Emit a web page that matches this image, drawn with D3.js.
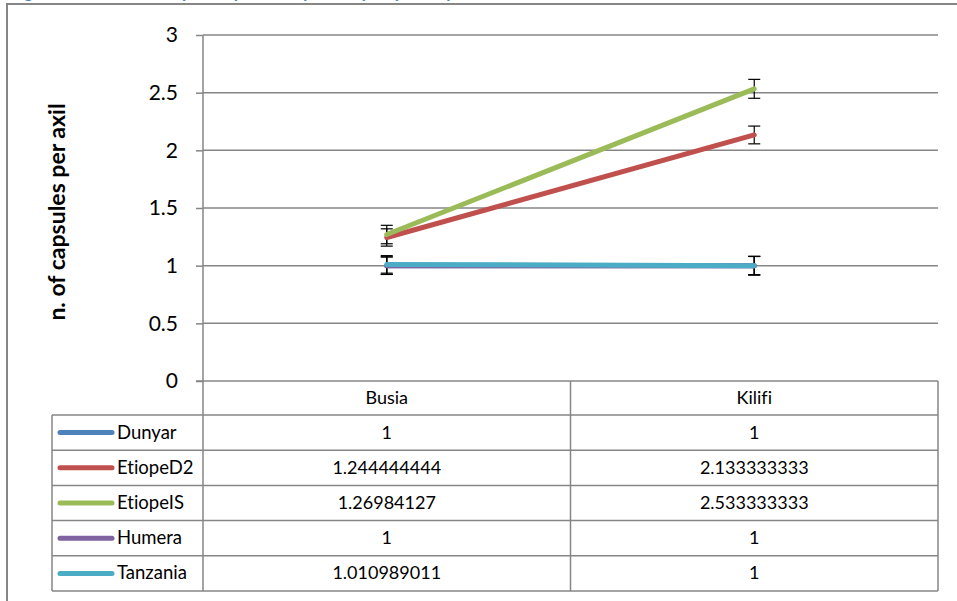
<!DOCTYPE html>
<html><head><meta charset="utf-8">
<script src="https://cdn.jsdelivr.net/npm/d3@7"></script>
<style>html,body{margin:0;padding:0;background:#fff;overflow:hidden} text{font-variant-ligatures:none}</style>
</head><body>
<svg id="c" width="957" height="601"></svg>
<script>
const categories = ["Busia", "Kilifi"];
const seriesNames = ["Dunyar", "EtiopeD2", "EtiopeIS", "Humera", "Tanzania"];
const dunyar = [1, 1];
const etiopeD2 = [1.244444444, 2.133333333];
const etiopeIS = [1.26984127, 2.533333333];
const humera = [1, 1];
const tanzania = [1.010989011, 1];
const labelsD2 = ["1.244444444", "2.133333333"];
const labelsIS = ["1.26984127", "2.533333333"];
const labelsTz = ["1.010989011", "1"];
const errDunyar = [0.076, 0.08];
const errD2 = [0.075, 0.077];
const errIS = [0.08, 0.082];
const errHumera = [0.076, 0.08];
const errTanzania = [0.076, 0.08];
const yTicks = [0, 0.5, 1, 1.5, 2, 2.5, 3];
const colors = ["#4F81BD", "#C0504D", "#9BBB59", "#8064A2", "#4BACC6"];

const series = [
  {name: seriesNames[0], values: dunyar, err: errDunyar, labels: ["1", "1"]},
  {name: seriesNames[1], values: etiopeD2, err: errD2, labels: labelsD2},
  {name: seriesNames[2], values: etiopeIS, err: errIS, labels: labelsIS},
  {name: seriesNames[3], values: humera, err: errHumera, labels: ["1", "1"]},
  {name: seriesNames[4], values: tanzania, err: errTanzania, labels: labelsTz}
];

const svg = d3.select("#c");
const font = "Lato, 'Open Sans', sans-serif";
const gray = "#868686";
const L = 203, R = 938, T = 35, B = 381;
const x = d3.scaleBand().domain(categories).range([L, R]);
const y = d3.scaleLinear().domain([0, 3]).range([B, T]);

// cut-off title (only descenders visible, as in the reference)
svg.append("text").attr("x", 10).attr("y", -2.5)
  .attr("font-family", font).attr("font-weight", "bold").attr("font-size", 17)
  .attr("fill", "#4F81BD")
  .text("Figure 8: Number of capsules per axil by locality: capsules per axil");

// outer frame
svg.append("path").attr("d", "M7,610 L7,4 L960,4")
  .attr("fill", "none").attr("stroke", gray).attr("stroke-width", 2);

// gridlines
svg.append("g").selectAll("line").data(yTicks.filter(d => d > 0)).join("line")
  .attr("x1", L).attr("x2", R).attr("y1", d => y(d)).attr("y2", d => y(d))
  .attr("stroke", gray).attr("stroke-width", 1.5);

// y axis
const yAxis = d3.axisLeft(y).tickValues(yTicks).tickSize(7).tickPadding(18)
  .tickFormat(d3.format("~g"));
const ga = svg.append("g").attr("transform", `translate(${L},0)`).call(yAxis);
ga.select(".domain").remove();
ga.selectAll(".tick line").attr("stroke", gray).attr("stroke-width", 1.5);
ga.selectAll(".tick text").attr("font-family", font).attr("font-size", 21).attr("fill", "#000");
svg.append("line").attr("x1", L).attr("x2", L).attr("y1", T).attr("y2", 591)
  .attr("stroke", gray).attr("stroke-width", 1.5);
svg.append("line").attr("x1", L - 7).attr("x2", R).attr("y1", B).attr("y2", B)
  .attr("stroke", gray).attr("stroke-width", 1.5);

// y title
svg.append("text").attr("transform", "translate(65,212) rotate(-90)")
  .attr("text-anchor", "middle").attr("font-family", font).attr("font-weight", "bold")
  .attr("font-size", 23).attr("fill", "#000").text("n. of capsules per axil");

// error bars
const cx = c => x(c) + x.bandwidth() / 2;
const eg = svg.append("g");
series.forEach(s => {
  categories.forEach((c, i) => {
    const v = s.values[i], e = s.err[i], px = cx(c);
    eg.append("line").attr("x1", px).attr("x2", px).attr("y1", y(v + e)).attr("y2", y(v - e))
      .attr("stroke", "#000").attr("stroke-width", 1.2);
    [v + e, v - e].forEach(w => eg.append("line").attr("x1", px - 6).attr("x2", px + 6)
      .attr("y1", y(w)).attr("y2", y(w)).attr("stroke", "#000").attr("stroke-width", 1.2));
  });
});

// lines
const line = d3.line().x((d, i) => cx(categories[i])).y(d => y(d));
series.forEach((s, k) => {
  svg.append("path").attr("d", line(s.values)).attr("fill", "none")
    .attr("stroke", colors[k]).attr("stroke-width", 5).attr("stroke-linecap", "round");
});

// data table
const rowTop = 415, rowH = 35.2, tL = 52;
const tg = svg.append("g");
for (let r = 0; r <= series.length; r++) {
  const yy = rowTop + r * rowH;
  tg.append("line").attr("x1", tL).attr("x2", R).attr("y1", yy).attr("y2", yy)
    .attr("stroke", gray).attr("stroke-width", 1.5);
}
const bottom = rowTop + series.length * rowH;
tg.append("line").attr("x1", tL).attr("x2", tL).attr("y1", rowTop).attr("y2", bottom)
  .attr("stroke", gray).attr("stroke-width", 1.5);
[x("Kilifi"), R].forEach(xx => tg.append("line").attr("x1", xx).attr("x2", xx)
  .attr("y1", B).attr("y2", bottom).attr("stroke", gray).attr("stroke-width", 1.5));
categories.forEach(c => tg.append("text").attr("x", cx(c)).attr("y", B + 23)
  .attr("text-anchor", "middle").attr("font-family", font).attr("font-size", 18)
  .attr("fill", "#000").text(c));
series.forEach((s, k) => {
  const yy = rowTop + k * rowH;
  tg.append("line").attr("x1", 60).attr("x2", 112).attr("y1", yy + rowH / 2).attr("y2", yy + rowH / 2)
    .attr("stroke", colors[k]).attr("stroke-width", 5).attr("stroke-linecap", "round");
  tg.append("text").attr("x", 117).attr("y", yy + rowH / 2 + 6).attr("font-family", font)
    .attr("font-size", 18.5).attr("fill", "#000").text(s.name);
  categories.forEach((c, i) => tg.append("text").attr("x", cx(c)).attr("y", yy + rowH / 2 + 6)
    .attr("text-anchor", "middle").attr("font-family", font).attr("font-size", 18)
    .attr("fill", "#000").text(s.labels[i]));
});
</script>
</body></html>
